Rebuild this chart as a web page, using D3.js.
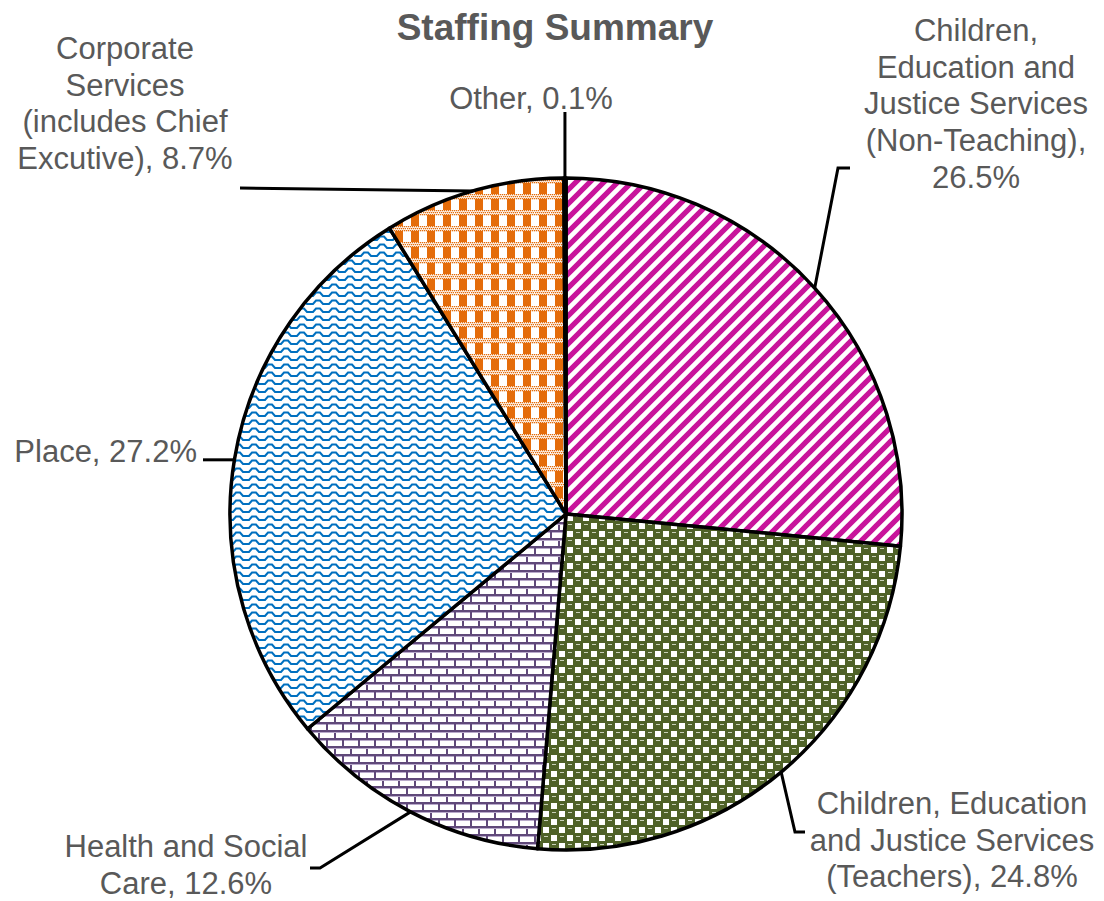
<!DOCTYPE html>
<html>
<head>
<meta charset="utf-8">
<script src="https://cdn.jsdelivr.net/npm/d3@7"></script>
<style>
  body { margin: 0; background: #fff; }
  svg { display: block; font-family: "Liberation Sans", Arial, sans-serif; }
</style>
</head>
<body>
<svg id="chart"></svg>
<script>
// data
const categories = [
  "Children, Education and Justice Services (Non-Teaching)",
  "Children, Education and Justice Services (Teachers)",
  "Health and Social Care",
  "Place",
  "Corporate Services (includes Chief Excutive)",
  "Other"
];
const values = [26.5, 24.8, 12.6, 27.2, 8.7, 0.1];
// label text split into lines, {v} is the value
const labelLines = [
  ["Children,", "Education and", "Justice Services", "(Non-Teaching),", "{v}"],
  ["Children, Education", "and Justice Services", "(Teachers), {v}"],
  ["Health and Social", "Care, {v}"],
  ["Place, {v}"],
  ["Corporate", "Services", "(includes Chief", "Excutive), {v}"],
  ["Other, {v}"]
];

const width = 1104, height = 901;
const cx = 566, cy = 514, radius = 336;
const textColor = "#595959";
const lineH = 36.7;

// label layout: anchor, x, first baseline, leader knee and end
const labelLayout = [
  {anchor: "middle", x: 976, y: 41,  knee: [838, 168], end: [850, 168]},
  {anchor: "middle", x: 952, y: 814, knee: [795, 832], end: [805, 832]},
  {anchor: "middle", x: 186, y: 857, knee: [320, 868], end: [310, 868]},
  {anchor: "end",    x: 197, y: 462, knee: null,       end: [203, null]},
  {anchor: "middle", x: 125, y: 59,  knee: null,       end: [240, 188]},
  {anchor: "middle", x: 531, y: 109, knee: null,       end: [null, 112]}
];
const patternIds = ["pStripe", "pChecker", "pBrick", "pWave", "pPlaid", "pPlaid"];

const svg = d3.select("#chart").attr("width", width).attr("height", height);
const defs = svg.append("defs");

// wide upward diagonal - magenta
{
  const t = 14;
  const p = defs.append("pattern").attr("id", "pStripe")
    .attr("patternUnits", "userSpaceOnUse").attr("width", t).attr("height", t);
  p.append("rect").attr("width", t).attr("height", t).attr("fill", "#fff");
  p.append("path")
    .attr("d", `M${-t},${t} L${t},${-t} M0,${2*t} L${2*t},0 M${-t},${2*t} L${2*t},${-t}`)
    .attr("stroke", "#c8149b").attr("stroke-width", 5.2);
}
// large checker board - olive
{
  const t = 16, h = t / 2;
  const p = defs.append("pattern").attr("id", "pChecker")
    .attr("patternUnits", "userSpaceOnUse").attr("width", t).attr("height", t);
  p.append("rect").attr("width", t).attr("height", t).attr("fill", "#4f6228");
  p.append("rect").attr("x", 1).attr("y", 1).attr("width", h - 2).attr("height", h - 2).attr("fill", "#fff");
  p.append("rect").attr("x", h + 1).attr("y", h + 1).attr("width", h - 2).attr("height", h - 2).attr("fill", "#fff");
  p.append("rect").attr("x", h + 2).attr("y", 2).attr("width", 4).attr("height", 1).attr("fill", "#c9d1b8");
  p.append("rect").attr("x", 2).attr("y", h + 2).attr("width", 4).attr("height", 1).attr("fill", "#c9d1b8");
}
// horizontal brick - purple
{
  const w = 16, t = 16, h = t / 2;
  const p = defs.append("pattern").attr("id", "pBrick")
    .attr("patternUnits", "userSpaceOnUse").attr("width", w).attr("height", t);
  p.append("rect").attr("width", w).attr("height", t).attr("fill", "#fff");
  const c = "#60497a";
  p.append("rect").attr("x", 0).attr("y", 0).attr("width", w).attr("height", 2).attr("fill", c);
  p.append("rect").attr("x", 0).attr("y", h).attr("width", w).attr("height", 2).attr("fill", c);
  p.append("rect").attr("x", 0).attr("y", 0).attr("width", 2).attr("height", h).attr("fill", c);
  p.append("rect").attr("x", h).attr("y", h).attr("width", 2).attr("height", h).attr("fill", c);
  p.append("rect").attr("x", 2).attr("y", 2).attr("width", w - 2).attr("height", 1).attr("fill", "#b9aacb");
  p.append("rect").attr("x", 0).attr("y", h + 2).attr("width", w).attr("height", 1).attr("fill", "#b9aacb");
}
// wave - blue
{
  const w = 16, t = 8;
  const p = defs.append("pattern").attr("id", "pWave")
    .attr("patternUnits", "userSpaceOnUse").attr("width", w).attr("height", t);
  p.append("rect").attr("width", w).attr("height", t).attr("fill", "#fff");
  p.append("path")
    .attr("d", "M-1,6 L3,6 L6,2.5 L10,2.5 L13,6 L17,6")
    .attr("fill", "none").attr("stroke", "#0070c0").attr("stroke-width", 2);
}
// plaid - orange
{
  const t = 16;
  const c = "#e46c0a";
  const p = defs.append("pattern").attr("id", "pPlaid")
    .attr("patternUnits", "userSpaceOnUse").attr("width", t).attr("height", t);
  p.append("rect").attr("width", t).attr("height", t).attr("fill", "#fff");
  p.append("rect").attr("x", 5).attr("y", 0).attr("width", 8).attr("height", t).attr("fill", c);
  p.append("rect").attr("x", 0).attr("y", 0).attr("width", t).attr("height", 5).attr("fill", "#fff");
  for (let i = 0; i < t; i += 2) {
    for (let j = 0; j < 5; j += 2) {
      const off = (j / 2) % 2;
      p.append("rect").attr("x", i + off).attr("y", j).attr("width", 1.3).attr("height", 1.3).attr("fill", c);
    }
  }
}

// title
svg.append("text")
  .attr("x", 555).attr("y", 40)
  .attr("text-anchor", "middle")
  .attr("font-size", 37).attr("font-weight", "bold")
  .attr("fill", textColor)
  .text("Staffing Summary");

const pie = d3.pie().sort(null).value(d => d)
  .startAngle(0).endAngle(2 * Math.PI);
const arcs = pie(values);
const arc = d3.arc().innerRadius(0).outerRadius(radius);

const g = svg.append("g").attr("transform", `translate(${cx},${cy})`);
g.selectAll("path.slice")
  .data(arcs)
  .join("path")
  .attr("class", "slice")
  .attr("d", arc)
  .attr("fill", (d, i) => `url(#${patternIds[i]})`)
  .attr("stroke", "#000")
  .attr("stroke-width", 3.5)
  .attr("stroke-linejoin", "round");

// leader lines
const leader = d3.line();
arcs.forEach((d, i) => {
  const a = (d.startAngle + d.endAngle) / 2;
  const sx = cx + radius * Math.sin(a);
  const sy = cy - radius * Math.cos(a);
  const L = labelLayout[i];
  const ex = L.end[0] == null ? sx : L.end[0];
  const ey = L.end[1] == null ? sy : L.end[1];
  const pts = [[sx, sy]];
  if (L.knee) pts.push(L.knee);
  pts.push([ex, ey]);
  svg.append("path")
    .attr("d", leader(pts))
    .attr("fill", "none")
    .attr("stroke", "#000")
    .attr("stroke-width", 3);
});

// labels
labelLines.forEach((lines, i) => {
  const L = labelLayout[i];
  const t = svg.append("text")
    .attr("text-anchor", L.anchor)
    .attr("font-size", 31)
    .attr("fill", textColor);
  lines.forEach((ln, k) => {
    t.append("tspan")
      .attr("x", L.x)
      .attr("y", L.y + k * lineH)
      .text(ln.replace("{v}", values[i].toFixed(1) + "%"));
  });
});
</script>
</body>
</html>
